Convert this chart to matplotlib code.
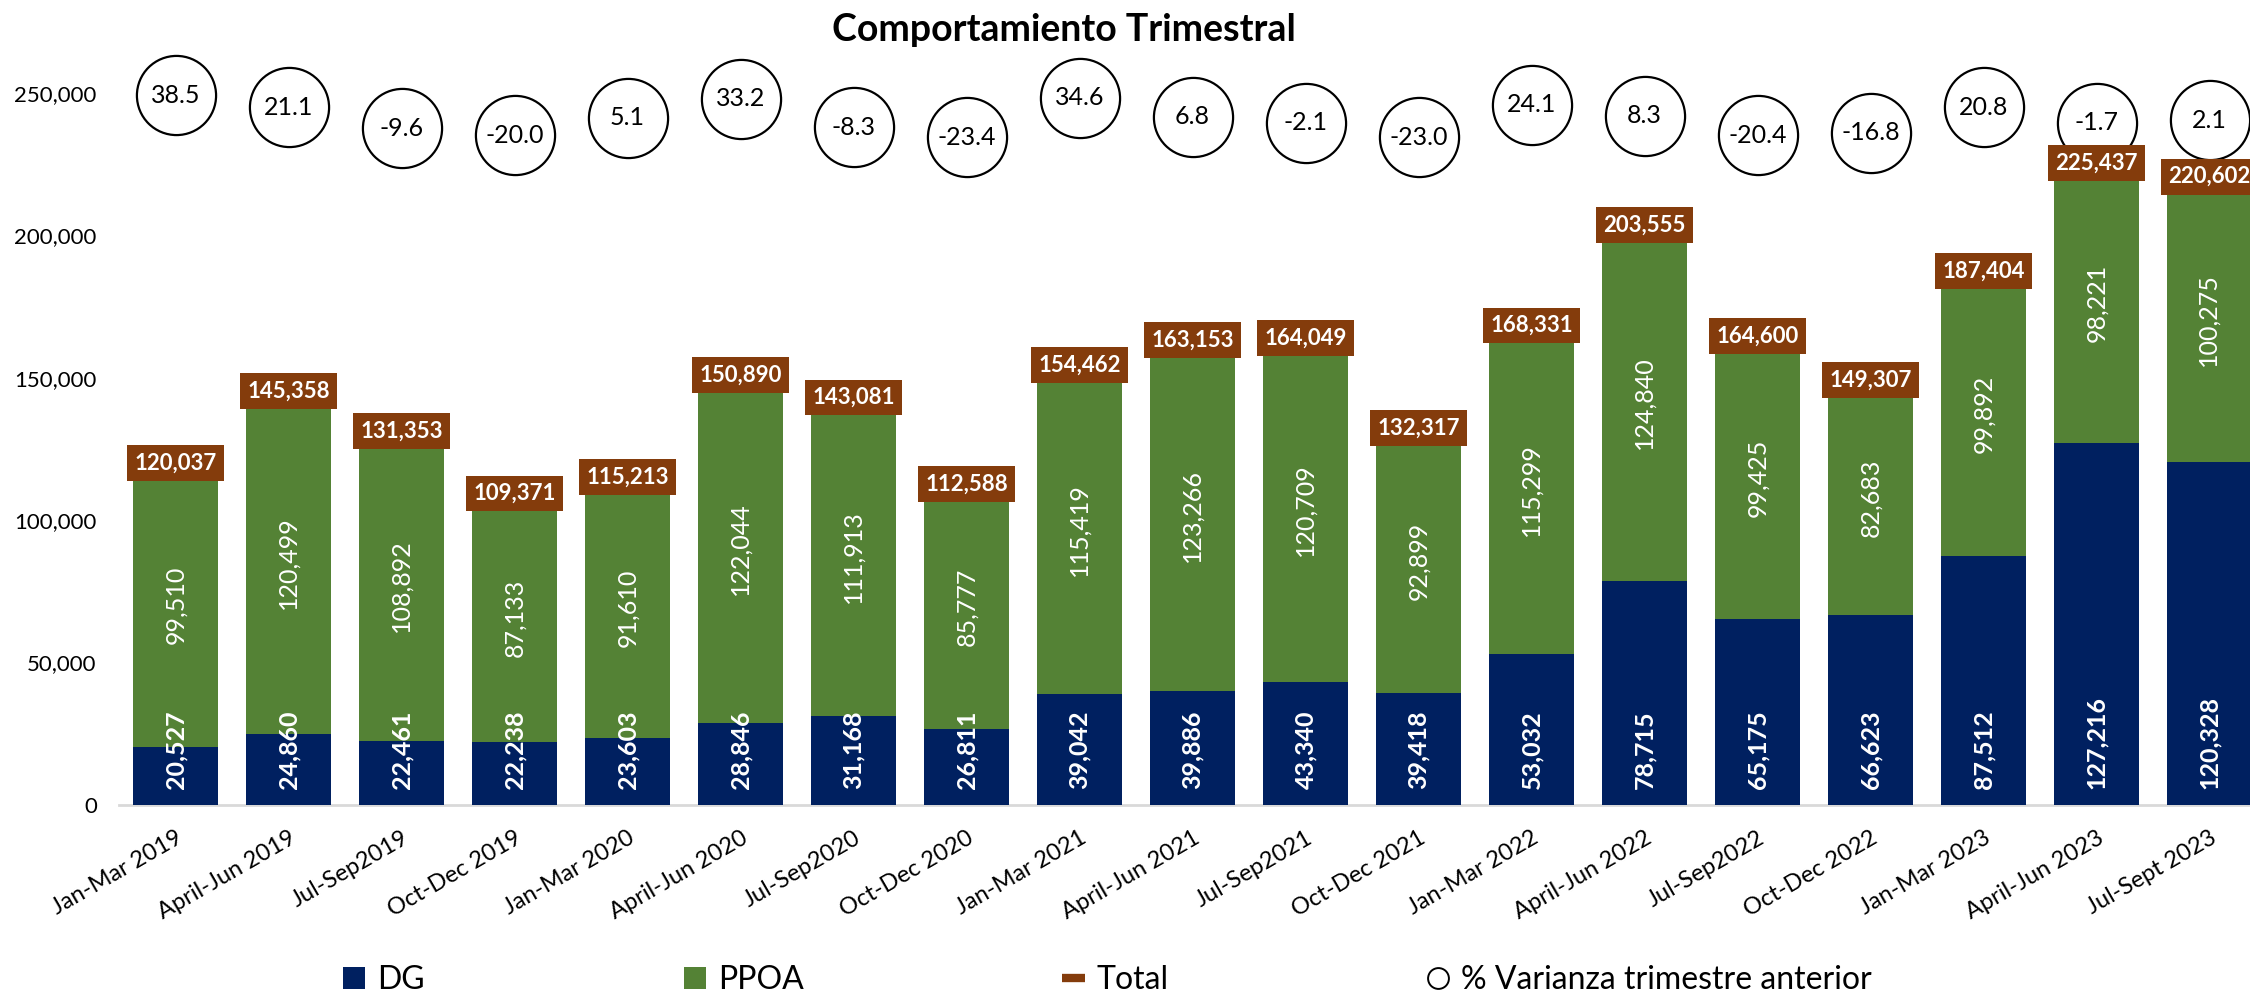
import matplotlib
matplotlib.use("Agg")
import matplotlib.pyplot as plt
from matplotlib.lines import Line2D
from matplotlib.patches import Patch
import numpy as np

plt.rcParams['font.family'] = ['Lato', 'DejaVu Sans']

categories = ['Jan-Mar 2019', 'April-Jun 2019', 'Jul-Sep2019', 'Oct-Dec 2019',
              'Jan-Mar 2020', 'April-Jun 2020', 'Jul-Sep2020', 'Oct-Dec 2020',
              'Jan-Mar 2021', 'April-Jun 2021', 'Jul-Sep2021', 'Oct-Dec 2021',
              'Jan-Mar 2022', 'April-Jun 2022', 'Jul-Sep2022', 'Oct-Dec 2022',
              'Jan-Mar 2023', 'April-Jun 2023', 'Jul-Sept 2023']
dg = [20527, 24860, 22461, 22238, 23603, 28846, 31168, 26811, 39042, 39886,
      43340, 39418, 53032, 78715, 65175, 66623, 87512, 127216, 120328]
ppoa = [99510, 120499, 108892, 87133, 91610, 122044, 111913, 85777, 115419, 123266,
        120709, 92899, 115299, 124840, 99425, 82683, 99892, 98221, 100275]
total = [120037, 145358, 131353, 109371, 115213, 150890, 143081, 112588, 154462, 163153,
         164049, 132317, 168331, 203555, 164600, 149307, 187404, 225437, 220602]
variance = [38.5, 21.1, -9.6, -20.0, 5.1, 33.2, -8.3, -23.4, 34.6, 6.8,
            -2.1, -23.0, 24.1, 8.3, -20.4, -16.8, 20.8, -1.7, 2.1]
yticks = [0, 50000, 100000, 150000, 200000, 250000]

C_DG = '#002060'
C_PPOA = '#548235'
C_TOT = '#843C0C'

W, H = 2250, 996
fig = plt.figure(figsize=(W / 100, H / 100), dpi=100)
ax_left, ax_bottom, ax_top = 119, 805, 36
ax = fig.add_axes([ax_left / W, (H - ax_bottom) / H, (W - ax_left) / W, (ax_bottom - ax_top) / H])
ax2 = ax.twinx()
ax.set_zorder(ax2.get_zorder() + 1)
ax.patch.set_visible(False)

x = np.arange(len(categories))
bw = 0.76
b1 = ax.bar(x, dg, bw, color=C_DG, label='DG', zorder=2)
b2 = ax.bar(x, ppoa, bw, bottom=dg, color=C_PPOA, label='PPOA', zorder=2)

ax.set_xlim(-0.5, -0.5 + (W - ax_left) / 113)
ax.set_ylim(0, 270000)
ax.set_yticks(yticks)
ax.set_yticklabels([f"{v:,}" for v in yticks])
ax.tick_params(axis='y', length=0, pad=16, labelsize=16)
ax.set_xticks(x)
ax.set_xticklabels(categories, rotation=30, ha='right', va='top', rotation_mode='anchor')
ax.tick_params(axis='x', length=0, pad=16, labelsize=17)
for s in ['left', 'right', 'top']:
    ax.spines[s].set_visible(False)
ax.spines['bottom'].set_color('#D9D9D9')
ax.spines['bottom'].set_linewidth(2)
ax.spines['bottom'].set_zorder(1)

# DG labels (inside base)
for xi, v in zip(x, dg):
    ax.annotate(f"{v:,}", (xi, 0), xytext=(0, 11.5), textcoords='offset points',
                rotation=90, ha='center', va='bottom', color='white',
                fontsize=18, fontweight='bold', zorder=4)
# PPOA labels (center)
ax.bar_label(b2, labels=[f"{v:,}" for v in ppoa], label_type='center',
             rotation=90, color='white', fontsize=18, zorder=4)

# Total labels
for xi, v in zip(x, total):
    ax.text(xi, v, f"{v:,}", ha='center', va='center', color='white',
            fontsize=16, fontweight='bold', zorder=5,
            bbox=dict(boxstyle='square,pad=0.33', fc=C_TOT, ec='none'))

# Variance circles (secondary axis)
ax2.set_ylim(-1000, 125)
ax2.scatter(x, variance, s=57 ** 2, facecolors='white', edgecolors='black',
            linewidths=1.6, zorder=3)
for xi, v in zip(x, variance):
    ax2.text(xi, v, f"{v:.1f}", ha='center', va='center', fontsize=18, color='black', zorder=4)
ax2.set_yticks([])
for s in ax2.spines.values():
    s.set_visible(False)

fig.text(1064 / W, 1 - 30 / H, 'Comportamiento Trimestral', ha='center', va='center',
         fontsize=27, fontweight='bold')

handles = [Patch(facecolor=C_DG, edgecolor='none'),
           Patch(facecolor=C_PPOA, edgecolor='none'),
           Line2D([0], [0], color=C_TOT, lw=6, solid_capstyle='butt'),
           Line2D([0], [0], marker='o', ls='none', mfc='white', mec='black', ms=15, mew=1.4)]
labels = ['DG', 'PPOA', 'Total', '% Varianza trimestre anterior']
fig.legend(handles, labels, loc='center left', bbox_to_anchor=(343 / W, 16 / H),
           ncol=4, frameon=False, fontsize=23, handlelength=0.7, handleheight=0.7,
           handletextpad=0.37, columnspacing=8.1, borderpad=0, borderaxespad=0)

fig.savefig('out.png', dpi=100)
